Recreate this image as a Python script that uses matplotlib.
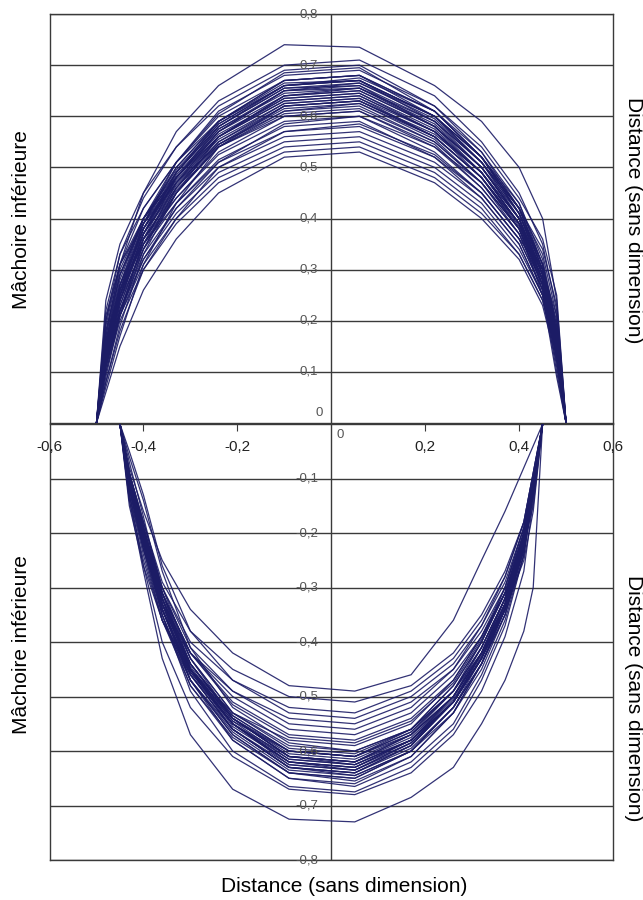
import matplotlib
matplotlib.use("Agg")
import matplotlib.pyplot as plt

plt.rcParams['font.family'] = ['Liberation Sans', 'DejaVu Sans']

# abscisses communes des points de chaque arcade
x_haut = [-0.50, -0.48, -0.45, -0.40, -0.33, -0.24, -0.10, 0.06, 0.22, 0.32, 0.40, 0.45, 0.48, 0.50]
x_bas = [-0.45, -0.43, -0.40, -0.36, -0.30, -0.21, -0.09, 0.05, 0.17, 0.26, 0.32, 0.37, 0.41, 0.43, 0.45]

# arcade du haut (ordonnées)
arcades_haut = [
    [0, .17, .31, .45, .57, .66, .74, .735, .66, .59, .50, .40, .24, 0],
    [0, .20, .33, .44, .54, .63, .70, .71, .64, .55, .45, .35, .22, 0],
    [0, .24, .35, .45, .54, .62, .69, .70, .62, .53, .42, .30, .16, 0],
    [0, .13, .25, .39, .51, .61, .68, .69, .62, .54, .44, .36, .25, 0],
    [0, .15, .27, .40, .51, .605, .685, .695, .61, .52, .41, .29, .12, 0],
    [0, .19, .31, .42, .51, .60, .67, .68, .60, .51, .40, .29, .16, 0],
    [0, .12, .24, .37, .49, .59, .67, .68, .61, .53, .43, .31, .18, 0],
    [0, .16, .28, .40, .50, .59, .66, .67, .59, .50, .40, .26, .10, 0],
    [0, .09, .21, .36, .48, .58, .66, .675, .61, .52, .42, .33, .21, 0],
    [0, .22, .33, .42, .51, .59, .665, .67, .60, .52, .41, .29, .17, 0],
    [0, .14, .26, .38, .48, .57, .65, .66, .59, .51, .41, .30, .17, 0],
    [0, .11, .22, .35, .47, .57, .65, .665, .60, .52, .42, .34, .23, 0],
    [0, .16, .29, .40, .49, .58, .655, .66, .58, .49, .39, .28, .15, 0],
    [0, .14, .26, .38, .485, .575, .65, .655, .585, .50, .40, .27, .11, 0],
    [0, .20, .31, .40, .48, .56, .64, .65, .58, .50, .40, .29, .16, 0],
    [0, .08, .19, .33, .45, .56, .64, .655, .59, .51, .42, .31, .18, 0],
    [0, .13, .25, .37, .47, .56, .63, .64, .57, .49, .39, .28, .16, 0],
    [0, .18, .30, .40, .48, .565, .635, .645, .57, .48, .38, .27, .14, 0],
    [0, .13, .24, .36, .46, .55, .62, .63, .56, .48, .39, .30, .20, 0],
    [0, .15, .27, .38, .47, .555, .625, .635, .57, .49, .40, .29, .17, 0],
    [0, .07, .17, .31, .43, .54, .62, .63, .565, .49, .39, .28, .16, 0],
    [0, .14, .25, .37, .465, .55, .625, .635, .56, .48, .385, .28, .15, 0],
    [0, .13, .24, .36, .45, .54, .61, .62, .55, .47, .38, .25, .09, 0],
    [0, .21, .31, .39, .47, .545, .61, .625, .56, .48, .39, .29, .17, 0],
    [0, .12, .23, .35, .44, .53, .60, .61, .54, .46, .37, .27, .15, 0],
    [0, .14, .25, .36, .44, .525, .59, .60, .53, .45, .36, .30, .21, 0],
    [0, .11, .21, .32, .42, .51, .585, .60, .54, .47, .38, .28, .17, 0],
    [0, .16, .26, .35, .43, .515, .58, .59, .52, .45, .36, .26, .14, 0],
    [0, .13, .24, .34, .43, .51, .57, .58, .52, .44, .35, .25, .14, 0],
    [0, .08, .18, .30, .40, .50, .57, .585, .525, .45, .36, .26, .15, 0],
    [0, .12, .22, .33, .42, .50, .56, .57, .51, .44, .35, .25, .14, 0],
    [0, .12, .22, .32, .41, .49, .55, .56, .50, .43, .34, .25, .14, 0],
    [0, .11, .21, .31, .40, .48, .54, .55, .49, .42, .33, .24, .13, 0],
    [0, .10, .20, .30, .39, .47, .53, .54, .48, .41, .33, .24, .13, 0],
    [0, .06, .15, .26, .36, .45, .52, .53, .47, .40, .32, .23, .12, 0],
    [0, .15, .27, .39, .49, .58, .655, .665, .595, .51, .41, .30, .17, 0],
    [0, .12, .24, .37, .48, .575, .645, .655, .58, .50, .40, .28, .15, 0],
    [0, .17, .29, .40, .495, .585, .66, .67, .60, .51, .42, .31, .19, 0],
    [0, .13, .26, .39, .50, .59, .67, .68, .61, .52, .42, .30, .17, 0],
    [0, .14, .26, .38, .475, .56, .63, .64, .57, .49, .40, .29, .17, 0],
    [0, .11, .22, .34, .45, .545, .62, .63, .56, .48, .38, .27, .14, 0],
    [0, .16, .27, .37, .46, .545, .615, .625, .555, .47, .37, .26, .14, 0],
    [0, .12, .23, .35, .45, .54, .605, .615, .55, .47, .38, .28, .16, 0],
    [0, .18, .29, .39, .48, .57, .64, .65, .58, .50, .41, .31, .18, 0],
    [0, .10, .21, .34, .46, .56, .635, .645, .575, .49, .39, .28, .15, 0],
    [0, .14, .25, .36, .455, .54, .60, .61, .545, .46, .37, .27, .15, 0],
    [0, .13, .25, .38, .49, .585, .66, .67, .60, .52, .43, .32, .19, 0],
]

# arcade du bas
arcades_bas = [
    [0, -.08, -.16, -.25, -.34, -.42, -.48, -.49, -.46, -.36, -.25, -.16, -.08, -.04, 0],
    [0, -.09, -.18, -.29, -.38, -.45, -.50, -.51, -.48, -.42, -.35, -.27, -.18, -.09, 0],
    [0, -.10, -.19, -.30, -.40, -.47, -.52, -.53, -.49, -.43, -.36, -.28, -.18, -.09, 0],
    [0, -.05, -.13, -.26, -.38, -.47, -.53, -.54, -.50, -.44, -.37, -.29, -.19, -.10, 0],
    [0, -.13, -.23, -.33, -.42, -.49, -.54, -.55, -.51, -.45, -.37, -.28, -.18, -.09, 0],
    [0, -.09, -.18, -.30, -.41, -.49, -.55, -.56, -.52, -.45, -.38, -.30, -.20, -.11, 0],
    [0, -.10, -.20, -.31, -.42, -.50, -.56, -.57, -.53, -.46, -.39, -.31, -.22, -.15, 0],
    [0, -.09, -.19, -.31, -.42, -.51, -.57, -.58, -.54, -.47, -.39, -.30, -.19, -.10, 0],
    [0, -.15, -.26, -.36, -.45, -.53, -.58, -.59, -.55, -.47, -.39, -.31, -.21, -.11, 0],
    [0, -.10, -.20, -.32, -.43, -.53, -.59, -.60, -.56, -.48, -.40, -.31, -.20, -.10, 0],
    [0, -.06, -.14, -.27, -.41, -.52, -.585, -.60, -.56, -.49, -.42, -.33, -.22, -.12, 0],
    [0, -.095, -.19, -.31, -.43, -.53, -.595, -.605, -.56, -.49, -.41, -.32, -.21, -.11, 0],
    [0, -.10, -.20, -.32, -.44, -.535, -.60, -.61, -.565, -.49, -.41, -.32, -.21, -.11, 0],
    [0, -.12, -.22, -.34, -.45, -.54, -.60, -.61, -.56, -.48, -.40, -.30, -.19, -.10, 0],
    [0, -.10, -.21, -.33, -.45, -.545, -.60, -.61, -.57, -.50, -.42, -.34, -.25, -.16, 0],
    [0, -.11, -.21, -.33, -.44, -.54, -.605, -.615, -.57, -.50, -.41, -.32, -.20, -.10, 0],
    [0, -.10, -.20, -.33, -.45, -.54, -.61, -.62, -.57, -.50, -.42, -.33, -.21, -.11, 0],
    [0, -.09, -.19, -.31, -.44, -.54, -.61, -.625, -.58, -.51, -.43, -.34, -.23, -.12, 0],
    [0, -.14, -.25, -.36, -.46, -.55, -.61, -.62, -.57, -.49, -.40, -.31, -.20, -.10, 0],
    [0, -.10, -.20, -.32, -.45, -.55, -.615, -.625, -.58, -.50, -.42, -.33, -.22, -.12, 0],
    [0, -.10, -.21, -.33, -.45, -.55, -.62, -.63, -.58, -.51, -.42, -.33, -.22, -.11, 0],
    [0, -.07, -.17, -.31, -.45, -.555, -.62, -.635, -.59, -.51, -.43, -.34, -.22, -.12, 0],
    [0, -.12, -.22, -.34, -.455, -.55, -.625, -.635, -.585, -.51, -.43, -.33, -.21, -.11, 0],
    [0, -.10, -.21, -.34, -.46, -.56, -.63, -.64, -.59, -.51, -.43, -.34, -.22, -.11, 0],
    [0, -.09, -.19, -.32, -.45, -.56, -.63, -.645, -.60, -.53, -.45, -.35, -.24, -.13, 0],
    [0, -.11, -.21, -.34, -.47, -.57, -.64, -.65, -.60, -.52, -.44, -.34, -.22, -.12, 0],
    [0, -.12, -.23, -.36, -.48, -.575, -.64, -.655, -.61, -.53, -.44, -.34, -.23, -.12, 0],
    [0, -.11, -.22, -.35, -.48, -.58, -.65, -.66, -.61, -.53, -.44, -.35, -.23, -.12, 0],
    [0, -.10, -.20, -.33, -.47, -.58, -.65, -.665, -.62, -.55, -.46, -.36, -.24, -.13, 0],
    [0, -.11, -.22, -.35, -.49, -.60, -.665, -.675, -.63, -.56, -.47, -.37, -.24, -.12, 0],
    [0, -.13, -.26, -.40, -.52, -.61, -.67, -.68, -.64, -.57, -.49, -.39, -.27, -.14, 0],
    [0, -.14, -.27, -.43, -.57, -.67, -.725, -.73, -.685, -.63, -.55, -.47, -.38, -.30, 0],
    [0, -.10, -.20, -.32, -.44, -.54, -.61, -.62, -.575, -.50, -.42, -.32, -.21, -.11, 0],
    [0, -.11, -.22, -.34, -.46, -.56, -.63, -.64, -.59, -.51, -.43, -.33, -.22, -.12, 0],
    [0, -.09, -.19, -.32, -.45, -.55, -.62, -.63, -.585, -.51, -.43, -.34, -.23, -.12, 0],
    [0, -.12, -.23, -.35, -.47, -.565, -.635, -.645, -.60, -.52, -.44, -.34, -.22, -.11, 0],
    [0, -.10, -.21, -.34, -.46, -.56, -.63, -.64, -.595, -.52, -.44, -.35, -.23, -.12, 0],
    [0, -.11, -.21, -.33, -.44, -.535, -.60, -.61, -.565, -.49, -.41, -.32, -.21, -.10, 0],
    [0, -.10, -.20, -.32, -.445, -.545, -.615, -.625, -.58, -.505, -.425, -.335, -.22, -.12, 0],
    [0, -.13, -.24, -.36, -.47, -.56, -.625, -.635, -.585, -.51, -.42, -.32, -.20, -.10, 0],
    [0, -.09, -.18, -.30, -.43, -.54, -.61, -.62, -.58, -.51, -.43, -.34, -.23, -.13, 0],
    [0, -.10, -.21, -.34, -.47, -.57, -.64, -.65, -.60, -.52, -.43, -.33, -.22, -.11, 0],
    [0, -.11, -.22, -.34, -.455, -.55, -.62, -.63, -.58, -.50, -.42, -.33, -.21, -.11, 0],
    [0, -.10, -.20, -.31, -.42, -.515, -.575, -.585, -.545, -.475, -.395, -.31, -.20, -.10, 0],
]

graduations_haut = [0.1, 0.2, 0.3, 0.4, 0.5, 0.6, 0.7, 0.8]
graduations_bas = [-0.1, -0.2, -0.3, -0.4, -0.5, -0.6, -0.7, -0.8]
graduations_x = [-0.6, -0.4, -0.2, 0.2, 0.4, 0.6]

bleu = '#1c1c66'
gris = '#3a3a3a'

fig = plt.figure(figsize=(6.43, 9), dpi=100)
ax1 = fig.add_axes([0.077, 0.530, 0.8764, 0.4544])
ax2 = fig.add_axes([0.077, 0.0444, 0.8764, 0.4844])


def cadre(ax, ymin, ymax, ticks):
    ax.set_xlim(-0.6, 0.6)
    ax.set_ylim(ymin, ymax)
    ax.set_xticks([])
    ax.set_yticks([])
    for s in ax.spines.values():
        s.set_color(gris)
        s.set_linewidth(1.0)
    for t in ticks:
        ax.axhline(t, color=gris, lw=1.0, zorder=1)
    ax.axvline(0, color=gris, lw=1.0, zorder=1)
    for t in ticks:
        ax.text(-0.028, t, ('%.1f' % t).replace('.', ','), ha='right', va='center',
                fontsize=9.5, color='#555555', zorder=5)


cadre(ax1, 0, 0.8, graduations_haut)
cadre(ax2, -0.8, 0, graduations_bas)

for y in arcades_haut:
    ax1.plot(x_haut, y, color=bleu, lw=0.9, alpha=0.9, zorder=3)
for y in arcades_bas:
    ax2.plot(x_bas, y, color=bleu, lw=0.9, alpha=0.9, zorder=3)

ax1.text(-0.018, 0.008, '0', ha='right', va='bottom', fontsize=9.5, color='#555555')
ax2.text(0.012, -0.02, '0', ha='left', va='center', fontsize=9.5, color='#555555')

# graduations de l'axe horizontal, sous la ligne du zéro
ax2.set_xticks([-0.4, -0.2, 0.2, 0.4])
ax2.tick_params(axis='x', bottom=False, top=True, direction='in', length=5,
                color=gris, labelbottom=False, labeltop=False)
for t in graduations_x:
    ax2.text(t, -0.042, ('%.1f' % t).replace('.', ','), ha='center', va='center',
             fontsize=11, color='#222222')

fig.text(22 / 643, 1 - 220 / 900, 'Mâchoire inférieure', rotation=90, ha='center', va='center', fontsize=15)
fig.text(22 / 643, 1 - 645 / 900, 'Mâchoire inférieure', rotation=90, ha='center', va='center', fontsize=15)
fig.text(633 / 643, 1 - 220 / 900, 'Distance (sans dimension)', rotation=-90, ha='center', va='center', fontsize=15)
fig.text(633 / 643, 1 - 698 / 900, 'Distance (sans dimension)', rotation=-90, ha='center', va='center', fontsize=15)
fig.text(344 / 643, 1 - 886 / 900, 'Distance (sans dimension)', ha='center', va='center', fontsize=15)

fig.savefig('out.png', dpi=100)
